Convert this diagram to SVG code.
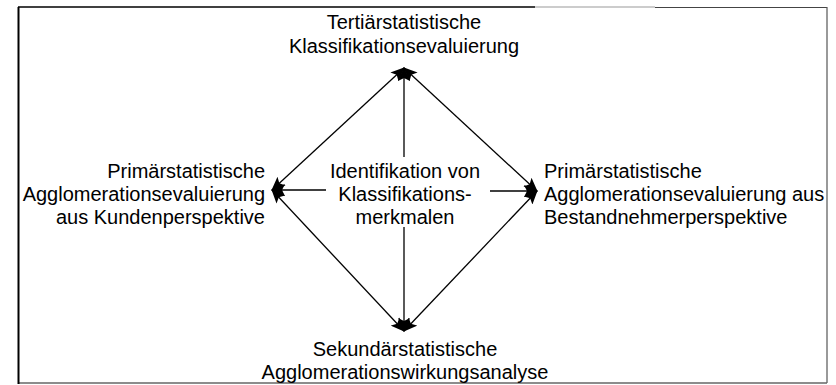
<svg xmlns="http://www.w3.org/2000/svg" width="836" height="385" viewBox="0 0 836 385">
<style>
  text { font-family: "Liberation Sans", Arial, sans-serif; font-size: 20px; fill: #000; }
  .c { text-anchor: middle; }
  .r { text-anchor: end; }
  .l { text-anchor: start; }
  .edge { stroke: #000; stroke-width: 1.3; fill: none; marker-end: url(#ah); }
  .edge2 { stroke: #000; stroke-width: 1.3; fill: none; marker-start: url(#ah); marker-end: url(#ah); }
</style>
<defs>
  <marker id="ah" viewBox="0 0 14 12" refX="13" refY="6" markerWidth="14" markerHeight="12" markerUnits="userSpaceOnUse" orient="auto-start-reverse">
    <path d="M0,0 L14,6 L0,12 L3,6 z" fill="#000"/>
  </marker>
</defs>
<rect width="836" height="385" fill="#fff"/>
<g id="frame" fill="none">
  <line x1="18" y1="7" x2="535" y2="7" stroke="#000" stroke-width="1.6"/>
  <line x1="535" y1="7" x2="655" y2="7" stroke="#999" stroke-width="1.2"/>
  <line x1="655" y1="7.5" x2="827" y2="7.5" stroke="#444" stroke-width="1"/>
  <line x1="827" y1="7" x2="827" y2="383" stroke="#555" stroke-width="1.2"/>
  <line x1="18" y1="383" x2="827" y2="383" stroke="#666" stroke-width="1.5"/>
  <line x1="18.5" y1="7" x2="18.5" y2="384" stroke="#000" stroke-width="2"/>
</g>
<g id="connectors">
  <line class="edge" x1="404" y1="157" x2="404" y2="68"/>
  <line class="edge" x1="404" y1="227" x2="404" y2="331"/>
  <line class="edge" x1="326" y1="190" x2="272" y2="190"/>
  <line class="edge" x1="490" y1="191" x2="537" y2="191"/>
  <line class="edge2" x1="272" y1="190" x2="404" y2="68"/>
  <line class="edge2" x1="404" y1="68" x2="537" y2="191"/>
  <line class="edge2" x1="272" y1="190" x2="404" y2="331"/>
  <line class="edge2" x1="537" y1="191" x2="404" y2="331"/>
</g>
<g id="top">
  <text class="c" x="404" y="29">Tertiärstatistische</text>
  <text class="c" x="404" y="53">Klassifikationsevaluierung</text>
</g>
<g id="left">
  <text class="r" x="265" y="178">Primärstatistische</text>
  <text class="r" x="265" y="201">Agglomerationsevaluierung</text>
  <text class="r" x="265" y="224">aus Kundenperspektive</text>
</g>
<g id="center">
  <text class="c" x="405" y="178">Identifikation von</text>
  <text class="c" x="405" y="201">Klassifikations-</text>
  <text class="c" x="405" y="224">merkmalen</text>
</g>
<g id="right">
  <text class="l" x="544" y="178">Primärstatistische</text>
  <text class="l" x="544" y="201">Agglomerationsevaluierung aus</text>
  <text class="l" x="544" y="224">Bestandnehmerperspektive</text>
</g>
<g id="bottom">
  <text class="c" x="405" y="356">Sekundärstatistische</text>
  <text class="c" x="405" y="379">Agglomerationswirkungsanalyse</text>
</g>
</svg>
